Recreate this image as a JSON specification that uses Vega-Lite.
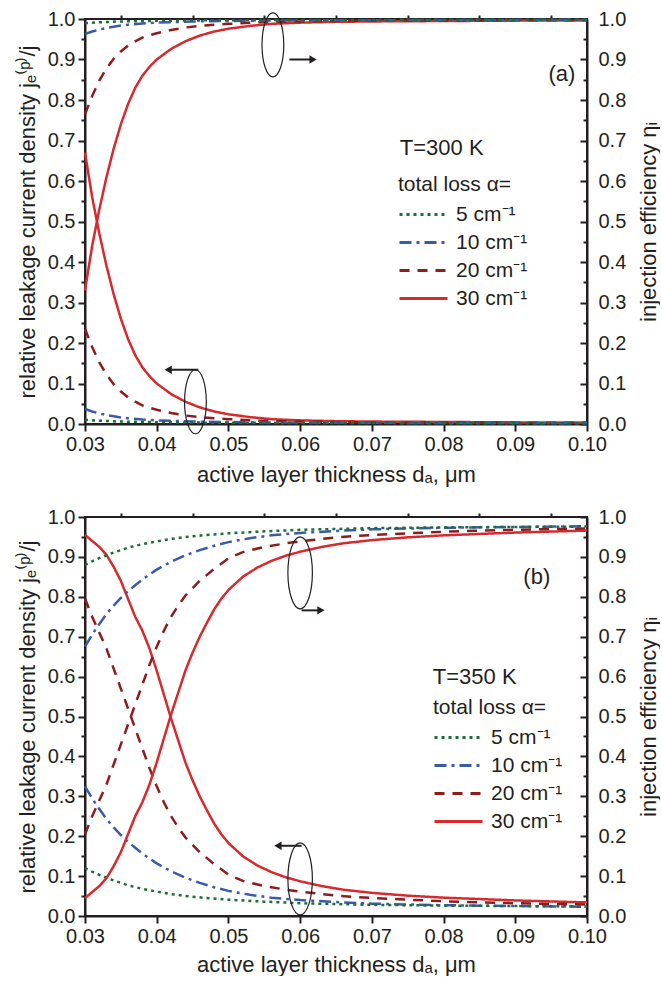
{
  "$schema": "https://vega.github.io/schema/vega-lite/v6.json",
  "padding": {"left": 15, "top": 8, "right": 0, "bottom": 0},
  "spacing": 20,
  "resolve": {"scale": {"color": "independent", "strokeDash": "independent"}, "legend": {"color": "independent", "strokeDash": "independent"}},
  "datasets": {
    "a": [
      {"d":0.030,"a":"30 cm⁻¹","L":0.67,"E":0.33},{"d":0.031,"a":"30 cm⁻¹","L":0.56,"E":0.44},{"d":0.032,"a":"30 cm⁻¹","L":0.47,"E":0.53},{"d":0.033,"a":"30 cm⁻¹","L":0.39,"E":0.61},{"d":0.034,"a":"30 cm⁻¹","L":0.32,"E":0.68},{"d":0.035,"a":"30 cm⁻¹","L":0.26,"E":0.74},{"d":0.036,"a":"30 cm⁻¹","L":0.21,"E":0.79},{"d":0.037,"a":"30 cm⁻¹","L":0.17,"E":0.83},{"d":0.038,"a":"30 cm⁻¹","L":0.14,"E":0.86},{"d":0.039,"a":"30 cm⁻¹","L":0.118,"E":0.882},{"d":0.040,"a":"30 cm⁻¹","L":0.10,"E":0.90},{"d":0.042,"a":"30 cm⁻¹","L":0.074,"E":0.926},{"d":0.044,"a":"30 cm⁻¹","L":0.055,"E":0.945},{"d":0.046,"a":"30 cm⁻¹","L":0.041,"E":0.959},{"d":0.048,"a":"30 cm⁻¹","L":0.031,"E":0.969},{"d":0.050,"a":"30 cm⁻¹","L":0.024,"E":0.976},{"d":0.053,"a":"30 cm⁻¹","L":0.017,"E":0.983},{"d":0.056,"a":"30 cm⁻¹","L":0.012,"E":0.988},{"d":0.060,"a":"30 cm⁻¹","L":0.009,"E":0.991},{"d":0.065,"a":"30 cm⁻¹","L":0.007,"E":0.993},{"d":0.070,"a":"30 cm⁻¹","L":0.006,"E":0.994},{"d":0.080,"a":"30 cm⁻¹","L":0.005,"E":0.995},{"d":0.090,"a":"30 cm⁻¹","L":0.004,"E":0.996},{"d":0.100,"a":"30 cm⁻¹","L":0.004,"E":0.996},
      {"d":0.030,"a":"20 cm⁻¹","L":0.235,"E":0.765},{"d":0.031,"a":"20 cm⁻¹","L":0.19,"E":0.81},{"d":0.032,"a":"20 cm⁻¹","L":0.152,"E":0.848},{"d":0.033,"a":"20 cm⁻¹","L":0.122,"E":0.878},{"d":0.034,"a":"20 cm⁻¹","L":0.098,"E":0.902},{"d":0.035,"a":"20 cm⁻¹","L":0.08,"E":0.92},{"d":0.036,"a":"20 cm⁻¹","L":0.066,"E":0.934},{"d":0.037,"a":"20 cm⁻¹","L":0.055,"E":0.945},{"d":0.038,"a":"20 cm⁻¹","L":0.046,"E":0.954},{"d":0.039,"a":"20 cm⁻¹","L":0.04,"E":0.96},{"d":0.040,"a":"20 cm⁻¹","L":0.035,"E":0.965},{"d":0.042,"a":"20 cm⁻¹","L":0.027,"E":0.973},{"d":0.044,"a":"20 cm⁻¹","L":0.021,"E":0.979},{"d":0.046,"a":"20 cm⁻¹","L":0.017,"E":0.983},{"d":0.048,"a":"20 cm⁻¹","L":0.014,"E":0.986},{"d":0.050,"a":"20 cm⁻¹","L":0.012,"E":0.988},{"d":0.053,"a":"20 cm⁻¹","L":0.009,"E":0.991},{"d":0.056,"a":"20 cm⁻¹","L":0.007,"E":0.993},{"d":0.060,"a":"20 cm⁻¹","L":0.006,"E":0.994},{"d":0.065,"a":"20 cm⁻¹","L":0.005,"E":0.995},{"d":0.070,"a":"20 cm⁻¹","L":0.004,"E":0.996},{"d":0.080,"a":"20 cm⁻¹","L":0.004,"E":0.996},{"d":0.090,"a":"20 cm⁻¹","L":0.003,"E":0.997},{"d":0.100,"a":"20 cm⁻¹","L":0.003,"E":0.997},
      {"d":0.030,"a":"10 cm⁻¹","L":0.037,"E":0.963},{"d":0.031,"a":"10 cm⁻¹","L":0.031,"E":0.969},{"d":0.032,"a":"10 cm⁻¹","L":0.026,"E":0.974},{"d":0.033,"a":"10 cm⁻¹","L":0.022,"E":0.978},{"d":0.034,"a":"10 cm⁻¹","L":0.019,"E":0.981},{"d":0.035,"a":"10 cm⁻¹","L":0.016,"E":0.984},{"d":0.036,"a":"10 cm⁻¹","L":0.014,"E":0.986},{"d":0.038,"a":"10 cm⁻¹","L":0.011,"E":0.989},{"d":0.040,"a":"10 cm⁻¹","L":0.009,"E":0.991},{"d":0.042,"a":"10 cm⁻¹","L":0.008,"E":0.992},{"d":0.045,"a":"10 cm⁻¹","L":0.006,"E":0.994},{"d":0.050,"a":"10 cm⁻¹","L":0.005,"E":0.995},{"d":0.055,"a":"10 cm⁻¹","L":0.004,"E":0.996},{"d":0.060,"a":"10 cm⁻¹","L":0.0035,"E":0.9965},{"d":0.070,"a":"10 cm⁻¹","L":0.003,"E":0.997},{"d":0.080,"a":"10 cm⁻¹","L":0.0025,"E":0.9975},{"d":0.100,"a":"10 cm⁻¹","L":0.002,"E":0.998},
      {"d":0.030,"a":"5 cm⁻¹","L":0.010,"E":0.990},{"d":0.032,"a":"5 cm⁻¹","L":0.008,"E":0.992},{"d":0.035,"a":"5 cm⁻¹","L":0.006,"E":0.994},{"d":0.040,"a":"5 cm⁻¹","L":0.0045,"E":0.9955},{"d":0.045,"a":"5 cm⁻¹","L":0.0035,"E":0.9965},{"d":0.050,"a":"5 cm⁻¹","L":0.003,"E":0.997},{"d":0.060,"a":"5 cm⁻¹","L":0.0025,"E":0.9975},{"d":0.080,"a":"5 cm⁻¹","L":0.002,"E":0.998},{"d":0.100,"a":"5 cm⁻¹","L":0.002,"E":0.998}
    ],
    "b": [
      {"d":0.030,"a":"30 cm⁻¹","L":0.955,"E":0.045},{"d":0.031,"a":"30 cm⁻¹","L":0.94,"E":0.06},{"d":0.032,"a":"30 cm⁻¹","L":0.925,"E":0.075},{"d":0.033,"a":"30 cm⁻¹","L":0.905,"E":0.095},{"d":0.034,"a":"30 cm⁻¹","L":0.875,"E":0.125},{"d":0.035,"a":"30 cm⁻¹","L":0.84,"E":0.16},{"d":0.036,"a":"30 cm⁻¹","L":0.795,"E":0.205},{"d":0.037,"a":"30 cm⁻¹","L":0.75,"E":0.25},{"d":0.038,"a":"30 cm⁻¹","L":0.715,"E":0.285},{"d":0.039,"a":"30 cm⁻¹","L":0.67,"E":0.33},{"d":0.040,"a":"30 cm⁻¹","L":0.615,"E":0.385},{"d":0.041,"a":"30 cm⁻¹","L":0.555,"E":0.445},{"d":0.042,"a":"30 cm⁻¹","L":0.495,"E":0.505},{"d":0.043,"a":"30 cm⁻¹","L":0.44,"E":0.56},{"d":0.044,"a":"30 cm⁻¹","L":0.385,"E":0.615},{"d":0.045,"a":"30 cm⁻¹","L":0.34,"E":0.66},{"d":0.046,"a":"30 cm⁻¹","L":0.30,"E":0.70},{"d":0.047,"a":"30 cm⁻¹","L":0.265,"E":0.735},{"d":0.048,"a":"30 cm⁻¹","L":0.232,"E":0.768},{"d":0.049,"a":"30 cm⁻¹","L":0.205,"E":0.795},{"d":0.050,"a":"30 cm⁻¹","L":0.183,"E":0.817},{"d":0.052,"a":"30 cm⁻¹","L":0.15,"E":0.85},{"d":0.054,"a":"30 cm⁻¹","L":0.127,"E":0.873},{"d":0.056,"a":"30 cm⁻¹","L":0.11,"E":0.89},{"d":0.058,"a":"30 cm⁻¹","L":0.097,"E":0.903},{"d":0.060,"a":"30 cm⁻¹","L":0.087,"E":0.913},{"d":0.063,"a":"30 cm⁻¹","L":0.075,"E":0.925},{"d":0.066,"a":"30 cm⁻¹","L":0.066,"E":0.934},{"d":0.070,"a":"30 cm⁻¹","L":0.058,"E":0.942},{"d":0.075,"a":"30 cm⁻¹","L":0.051,"E":0.949},{"d":0.080,"a":"30 cm⁻¹","L":0.046,"E":0.954},{"d":0.090,"a":"30 cm⁻¹","L":0.039,"E":0.961},{"d":0.100,"a":"30 cm⁻¹","L":0.034,"E":0.966},
      {"d":0.030,"a":"20 cm⁻¹","L":0.795,"E":0.205},{"d":0.031,"a":"20 cm⁻¹","L":0.75,"E":0.25},{"d":0.032,"a":"20 cm⁻¹","L":0.71,"E":0.29},{"d":0.033,"a":"20 cm⁻¹","L":0.67,"E":0.33},{"d":0.034,"a":"20 cm⁻¹","L":0.62,"E":0.38},{"d":0.035,"a":"20 cm⁻¹","L":0.57,"E":0.43},{"d":0.036,"a":"20 cm⁻¹","L":0.52,"E":0.48},{"d":0.037,"a":"20 cm⁻¹","L":0.47,"E":0.53},{"d":0.038,"a":"20 cm⁻¹","L":0.42,"E":0.58},{"d":0.039,"a":"20 cm⁻¹","L":0.37,"E":0.63},{"d":0.040,"a":"20 cm⁻¹","L":0.325,"E":0.675},{"d":0.041,"a":"20 cm⁻¹","L":0.285,"E":0.715},{"d":0.042,"a":"20 cm⁻¹","L":0.25,"E":0.75},{"d":0.043,"a":"20 cm⁻¹","L":0.222,"E":0.778},{"d":0.044,"a":"20 cm⁻¹","L":0.197,"E":0.803},{"d":0.046,"a":"20 cm⁻¹","L":0.16,"E":0.84},{"d":0.048,"a":"20 cm⁻¹","L":0.13,"E":0.87},{"d":0.050,"a":"20 cm⁻¹","L":0.104,"E":0.896},{"d":0.052,"a":"20 cm⁻¹","L":0.088,"E":0.912},{"d":0.055,"a":"20 cm⁻¹","L":0.075,"E":0.925},{"d":0.058,"a":"20 cm⁻¹","L":0.066,"E":0.934},{"d":0.060,"a":"20 cm⁻¹","L":0.061,"E":0.939},{"d":0.065,"a":"20 cm⁻¹","L":0.051,"E":0.949},{"d":0.070,"a":"20 cm⁻¹","L":0.045,"E":0.955},{"d":0.080,"a":"20 cm⁻¹","L":0.037,"E":0.963},{"d":0.090,"a":"20 cm⁻¹","L":0.032,"E":0.968},{"d":0.100,"a":"20 cm⁻¹","L":0.029,"E":0.971},
      {"d":0.030,"a":"10 cm⁻¹","L":0.325,"E":0.675},{"d":0.031,"a":"10 cm⁻¹","L":0.295,"E":0.705},{"d":0.032,"a":"10 cm⁻¹","L":0.268,"E":0.732},{"d":0.033,"a":"10 cm⁻¹","L":0.243,"E":0.757},{"d":0.034,"a":"10 cm⁻¹","L":0.222,"E":0.778},{"d":0.035,"a":"10 cm⁻¹","L":0.203,"E":0.797},{"d":0.036,"a":"10 cm⁻¹","L":0.186,"E":0.814},{"d":0.037,"a":"10 cm⁻¹","L":0.171,"E":0.829},{"d":0.038,"a":"10 cm⁻¹","L":0.157,"E":0.843},{"d":0.039,"a":"10 cm⁻¹","L":0.144,"E":0.856},{"d":0.040,"a":"10 cm⁻¹","L":0.132,"E":0.868},{"d":0.042,"a":"10 cm⁻¹","L":0.112,"E":0.888},{"d":0.044,"a":"10 cm⁻¹","L":0.096,"E":0.904},{"d":0.046,"a":"10 cm⁻¹","L":0.083,"E":0.917},{"d":0.048,"a":"10 cm⁻¹","L":0.072,"E":0.928},{"d":0.050,"a":"10 cm⁻¹","L":0.063,"E":0.937},{"d":0.053,"a":"10 cm⁻¹","L":0.053,"E":0.947},{"d":0.056,"a":"10 cm⁻¹","L":0.046,"E":0.954},{"d":0.060,"a":"10 cm⁻¹","L":0.04,"E":0.96},{"d":0.065,"a":"10 cm⁻¹","L":0.035,"E":0.965},{"d":0.070,"a":"10 cm⁻¹","L":0.031,"E":0.969},{"d":0.080,"a":"10 cm⁻¹","L":0.027,"E":0.973},{"d":0.090,"a":"10 cm⁻¹","L":0.025,"E":0.975},{"d":0.100,"a":"10 cm⁻¹","L":0.023,"E":0.977},
      {"d":0.030,"a":"5 cm⁻¹","L":0.12,"E":0.88},{"d":0.031,"a":"5 cm⁻¹","L":0.111,"E":0.889},{"d":0.032,"a":"5 cm⁻¹","L":0.103,"E":0.897},{"d":0.033,"a":"5 cm⁻¹","L":0.096,"E":0.904},{"d":0.034,"a":"5 cm⁻¹","L":0.089,"E":0.911},{"d":0.035,"a":"5 cm⁻¹","L":0.083,"E":0.917},{"d":0.036,"a":"5 cm⁻¹","L":0.077,"E":0.923},{"d":0.038,"a":"5 cm⁻¹","L":0.068,"E":0.932},{"d":0.040,"a":"5 cm⁻¹","L":0.061,"E":0.939},{"d":0.042,"a":"5 cm⁻¹","L":0.055,"E":0.945},{"d":0.044,"a":"5 cm⁻¹","L":0.05,"E":0.95},{"d":0.047,"a":"5 cm⁻¹","L":0.045,"E":0.955},{"d":0.050,"a":"5 cm⁻¹","L":0.041,"E":0.959},{"d":0.055,"a":"5 cm⁻¹","L":0.036,"E":0.964},{"d":0.060,"a":"5 cm⁻¹","L":0.032,"E":0.968},{"d":0.065,"a":"5 cm⁻¹","L":0.03,"E":0.97},{"d":0.070,"a":"5 cm⁻¹","L":0.028,"E":0.972},{"d":0.080,"a":"5 cm⁻¹","L":0.026,"E":0.974},{"d":0.090,"a":"5 cm⁻¹","L":0.025,"E":0.975},{"d":0.100,"a":"5 cm⁻¹","L":0.024,"E":0.976}
    ]
  },
  "vconcat": [
    {
      "width": 502,
      "height": 405,
      "resolve": {"axis": {"x": "independent", "y": "independent"}},
      "layer": [
        {
          "data": {"name": "a"},
          "mark": {"type": "line", "strokeWidth": 2.5},
          "encoding": {
            "x": {"field": "d", "type": "quantitative", "scale": {"domain": [0.03, 0.1], "nice": false, "zero": false, "padding": 0},
                  "axis": {"values": [0.03,0.04,0.05,0.06,0.07,0.08,0.09,0.1], "format": ".2f", "title": "active layer thickness dₐ, μm", "labelPadding": 3, "titlePadding": 10}},
            "y": {"field": "L", "type": "quantitative", "scale": {"domain": [0, 1], "nice": false, "padding": 0},
                  "axis": {"orient": "left", "values": [0,0.1,0.2,0.3,0.4,0.5,0.6,0.7,0.8,0.9,1], "format": ".1f", "title": "relative leakage current density jₑ⁽ᵖ⁾/j", "labelPadding": 3, "titlePadding": 8}},
            "color": {"field": "a", "type": "nominal", "scale": {"domain": ["5 cm⁻¹","10 cm⁻¹","20 cm⁻¹","30 cm⁻¹"], "range": ["#1b6e36","#3b5aa9","#8c1c1e","#d62a2f"]},
                      "legend": {"title": "total loss α=", "legendX": 313, "legendY": 155}},
            "strokeDash": {"field": "a", "type": "nominal", "scale": {"domain": ["5 cm⁻¹","10 cm⁻¹","20 cm⁻¹","30 cm⁻¹"], "range": [[3,4],[12,5,3,5],[10,8],[1,0]]},
                      "legend": {"title": "total loss α=", "legendX": 313, "legendY": 155}}
          }
        },
        {
          "data": {"name": "a"},
          "mark": {"type": "line", "strokeWidth": 2.5},
          "encoding": {
            "x": {"field": "d", "type": "quantitative", "scale": {"domain": [0.03, 0.1], "nice": false, "zero": false, "padding": 0}, "axis": null},
            "y": {"field": "E", "type": "quantitative", "scale": {"domain": [0, 1], "nice": false, "padding": 0},
                  "axis": {"orient": "right", "values": [0,0.1,0.2,0.3,0.4,0.5,0.6,0.7,0.8,0.9,1], "format": ".1f", "title": "injection efficiency ηᵢ", "titleAngle": -90, "titleBaseline": "middle", "titleX": 61, "tickSize": -7, "labelPadding": 18}},
            "color": {"field": "a", "type": "nominal", "legend": {"title": "total loss α=", "legendX": 313, "legendY": 155}},
            "strokeDash": {"field": "a", "type": "nominal", "legend": {"title": "total loss α=", "legendX": 313, "legendY": 155}}
          }
        },
        {
          "data": {"name": "a"},
          "mark": {"type": "point", "opacity": 0},
          "encoding": {
            "x": {"field": "d", "type": "quantitative", "scale": {"domain": [0.03, 0.1], "nice": false, "zero": false, "padding": 0}, "axis": {"values": [0.035,0.045,0.055,0.065,0.075,0.085,0.095], "labels": false, "domain": false, "tickSize": 4, "title": null}},
            "y": {"field": "L", "type": "quantitative", "scale": {"domain": [0, 1], "nice": false, "padding": 0}, "axis": {"orient": "left", "values": [0.05,0.15,0.25,0.35,0.45,0.55,0.65,0.75,0.85,0.95], "labels": false, "domain": false, "tickSize": 4, "title": null}}
          }
        },
        {
          "data": {"name": "a"},
          "mark": {"type": "point", "opacity": 0},
          "encoding": {
            "x": {"field": "d", "type": "quantitative", "scale": {"domain": [0.03, 0.1], "nice": false, "zero": false, "padding": 0}, "axis": null},
            "y": {"field": "E", "type": "quantitative", "scale": {"domain": [0, 1], "nice": false, "padding": 0}, "axis": {"orient": "right", "values": [0.05,0.15,0.25,0.35,0.45,0.55,0.65,0.75,0.85,0.95], "labels": false, "domain": false, "tickSize": -4, "title": null}}
          }
        },
        {
          "data": {"values": [{"d": 0.0562, "v": 0.936}, {"d": 0.0454, "v": 0.055}]},
          "mark": {"type": "point", "shape": "M0,-1A0.34,1,0,1,1,0,1A0.34,1,0,1,1,0,-1Z", "size": 4096, "filled": false, "stroke": "#231f20", "strokeWidth": 1.2, "opacity": 1},
          "encoding": {
            "x": {"field": "d", "type": "quantitative", "scale": {"domain": [0.03, 0.1], "nice": false, "zero": false, "padding": 0}, "axis": null},
            "y": {"field": "v", "type": "quantitative", "scale": {"domain": [0, 1], "nice": false, "padding": 0}, "axis": null}
          }
        },
        {
          "data": {"values": [{"d": 0.0585, "d2": 0.0617, "v": 0.9}, {"d": 0.0458, "d2": 0.0417, "v": 0.134}]},
          "mark": {"type": "rule", "stroke": "#231f20", "strokeWidth": 2},
          "encoding": {
            "x": {"field": "d", "type": "quantitative", "scale": {"domain": [0.03, 0.1], "nice": false, "zero": false, "padding": 0}, "axis": null},
            "x2": {"field": "d2"},
            "y": {"field": "v", "type": "quantitative", "scale": {"domain": [0, 1], "nice": false, "padding": 0}, "axis": null}
          }
        },
        {
          "data": {"values": [{"d": 0.0618, "v": 0.9}]},
          "mark": {"type": "point", "shape": "triangle-right", "size": 70, "filled": true, "color": "#231f20", "opacity": 1},
          "encoding": {
            "x": {"field": "d", "type": "quantitative", "scale": {"domain": [0.03, 0.1], "nice": false, "zero": false, "padding": 0}, "axis": null},
            "y": {"field": "v", "type": "quantitative", "scale": {"domain": [0, 1], "nice": false, "padding": 0}, "axis": null}
          }
        },
        {
          "data": {"values": [{"d": 0.0416, "v": 0.134}]},
          "mark": {"type": "point", "shape": "triangle-left", "size": 70, "filled": true, "color": "#231f20", "opacity": 1},
          "encoding": {
            "x": {"field": "d", "type": "quantitative", "scale": {"domain": [0.03, 0.1], "nice": false, "zero": false, "padding": 0}, "axis": null},
            "y": {"field": "v", "type": "quantitative", "scale": {"domain": [0, 1], "nice": false, "padding": 0}, "axis": null}
          }
        },
        {
          "data": {"values": [{"d": 0.0739, "v": 0.681, "t": "T=300 K"}]},
          "mark": {"type": "text", "font": "Liberation Sans", "fontSize": 22, "color": "#231f20", "align": "left", "baseline": "middle"},
          "encoding": {
            "x": {"field": "d", "type": "quantitative", "scale": {"domain": [0.03, 0.1], "nice": false, "zero": false, "padding": 0}, "axis": null},
            "y": {"field": "v", "type": "quantitative", "scale": {"domain": [0, 1], "nice": false, "padding": 0}, "axis": null},
            "text": {"field": "t"}
          }
        },
        {
          "data": {"values": [{"d": 0.0965, "v": 0.864, "t": "(a)"}]},
          "mark": {"type": "text", "font": "Liberation Sans", "fontSize": 22, "color": "#231f20", "align": "center", "baseline": "middle"},
          "encoding": {
            "x": {"field": "d", "type": "quantitative", "scale": {"domain": [0.03, 0.1], "nice": false, "zero": false, "padding": 0}, "axis": null},
            "y": {"field": "v", "type": "quantitative", "scale": {"domain": [0, 1], "nice": false, "padding": 0}, "axis": null},
            "text": {"field": "t"}
          }
        }
      ]
    },
    {
      "width": 502,
      "height": 399,
      "resolve": {"axis": {"x": "independent", "y": "independent"}},
      "layer": [
        {
          "data": {"name": "b"},
          "mark": {"type": "line", "strokeWidth": 2.5},
          "encoding": {
            "x": {"field": "d", "type": "quantitative", "scale": {"domain": [0.03, 0.1], "nice": false, "zero": false, "padding": 0},
                  "axis": {"values": [0.03,0.04,0.05,0.06,0.07,0.08,0.09,0.1], "format": ".2f", "title": "active layer thickness dₐ, μm", "labelPadding": 3, "titlePadding": 8}},
            "y": {"field": "L", "type": "quantitative", "scale": {"domain": [0, 1], "nice": false, "padding": 0},
                  "axis": {"orient": "left", "values": [0,0.1,0.2,0.3,0.4,0.5,0.6,0.7,0.8,0.9,1], "format": ".1f", "title": "relative leakage current density jₑ⁽ᵖ⁾/j", "labelPadding": 3, "titlePadding": 8}},
            "color": {"field": "a", "type": "nominal", "scale": {"domain": ["5 cm⁻¹","10 cm⁻¹","20 cm⁻¹","30 cm⁻¹"], "range": ["#1b6e36","#3b5aa9","#8c1c1e","#d62a2f"]},
                      "legend": {"title": "total loss α=", "legendX": 348, "legendY": 180}},
            "strokeDash": {"field": "a", "type": "nominal", "scale": {"domain": ["5 cm⁻¹","10 cm⁻¹","20 cm⁻¹","30 cm⁻¹"], "range": [[3,4],[12,5,3,5],[10,8],[1,0]]},
                      "legend": {"title": "total loss α=", "legendX": 348, "legendY": 180}}
          }
        },
        {
          "data": {"name": "b"},
          "mark": {"type": "line", "strokeWidth": 2.5},
          "encoding": {
            "x": {"field": "d", "type": "quantitative", "scale": {"domain": [0.03, 0.1], "nice": false, "zero": false, "padding": 0}, "axis": null},
            "y": {"field": "E", "type": "quantitative", "scale": {"domain": [0, 1], "nice": false, "padding": 0},
                  "axis": {"orient": "right", "values": [0,0.1,0.2,0.3,0.4,0.5,0.6,0.7,0.8,0.9,1], "format": ".1f", "title": "injection efficiency ηᵢ", "titleAngle": -90, "titleBaseline": "middle", "titleX": 61, "tickSize": -7, "labelPadding": 18}},
            "color": {"field": "a", "type": "nominal", "legend": {"title": "total loss α=", "legendX": 348, "legendY": 180}},
            "strokeDash": {"field": "a", "type": "nominal", "legend": {"title": "total loss α=", "legendX": 348, "legendY": 180}}
          }
        },
        {
          "data": {"name": "b"},
          "mark": {"type": "point", "opacity": 0},
          "encoding": {
            "x": {"field": "d", "type": "quantitative", "scale": {"domain": [0.03, 0.1], "nice": false, "zero": false, "padding": 0}, "axis": {"values": [0.035,0.045,0.055,0.065,0.075,0.085,0.095], "labels": false, "domain": false, "tickSize": 4, "title": null}},
            "y": {"field": "L", "type": "quantitative", "scale": {"domain": [0, 1], "nice": false, "padding": 0}, "axis": {"orient": "left", "values": [0.05,0.15,0.25,0.35,0.45,0.55,0.65,0.75,0.85,0.95], "labels": false, "domain": false, "tickSize": 4, "title": null}}
          }
        },
        {
          "data": {"name": "b"},
          "mark": {"type": "point", "opacity": 0},
          "encoding": {
            "x": {"field": "d", "type": "quantitative", "scale": {"domain": [0.03, 0.1], "nice": false, "zero": false, "padding": 0}, "axis": null},
            "y": {"field": "E", "type": "quantitative", "scale": {"domain": [0, 1], "nice": false, "padding": 0}, "axis": {"orient": "right", "values": [0.05,0.15,0.25,0.35,0.45,0.55,0.65,0.75,0.85,0.95], "labels": false, "domain": false, "tickSize": -4, "title": null}}
          }
        },
        {
          "data": {"values": [{"d": 0.060, "v": 0.86}, {"d": 0.060, "v": 0.093}]},
          "mark": {"type": "point", "shape": "M0,-1A0.34,1,0,1,1,0,1A0.34,1,0,1,1,0,-1Z", "size": 5184, "filled": false, "stroke": "#231f20", "strokeWidth": 1.2, "opacity": 1},
          "encoding": {
            "x": {"field": "d", "type": "quantitative", "scale": {"domain": [0.03, 0.1], "nice": false, "zero": false, "padding": 0}, "axis": null},
            "y": {"field": "v", "type": "quantitative", "scale": {"domain": [0, 1], "nice": false, "padding": 0}, "axis": null}
          }
        },
        {
          "data": {"values": [{"d": 0.0602, "d2": 0.0628, "v": 0.766}, {"d": 0.0602, "d2": 0.0570, "v": 0.176}]},
          "mark": {"type": "rule", "stroke": "#231f20", "strokeWidth": 2},
          "encoding": {
            "x": {"field": "d", "type": "quantitative", "scale": {"domain": [0.03, 0.1], "nice": false, "zero": false, "padding": 0}, "axis": null},
            "x2": {"field": "d2"},
            "y": {"field": "v", "type": "quantitative", "scale": {"domain": [0, 1], "nice": false, "padding": 0}, "axis": null}
          }
        },
        {
          "data": {"values": [{"d": 0.0629, "v": 0.766}]},
          "mark": {"type": "point", "shape": "triangle-right", "size": 70, "filled": true, "color": "#231f20", "opacity": 1},
          "encoding": {
            "x": {"field": "d", "type": "quantitative", "scale": {"domain": [0.03, 0.1], "nice": false, "zero": false, "padding": 0}, "axis": null},
            "y": {"field": "v", "type": "quantitative", "scale": {"domain": [0, 1], "nice": false, "padding": 0}, "axis": null}
          }
        },
        {
          "data": {"values": [{"d": 0.0569, "v": 0.176}]},
          "mark": {"type": "point", "shape": "triangle-left", "size": 70, "filled": true, "color": "#231f20", "opacity": 1},
          "encoding": {
            "x": {"field": "d", "type": "quantitative", "scale": {"domain": [0.03, 0.1], "nice": false, "zero": false, "padding": 0}, "axis": null},
            "y": {"field": "v", "type": "quantitative", "scale": {"domain": [0, 1], "nice": false, "padding": 0}, "axis": null}
          }
        },
        {
          "data": {"values": [{"d": 0.0785, "v": 0.599, "t": "T=350 K"}]},
          "mark": {"type": "text", "font": "Liberation Sans", "fontSize": 22, "color": "#231f20", "align": "left", "baseline": "middle"},
          "encoding": {
            "x": {"field": "d", "type": "quantitative", "scale": {"domain": [0.03, 0.1], "nice": false, "zero": false, "padding": 0}, "axis": null},
            "y": {"field": "v", "type": "quantitative", "scale": {"domain": [0, 1], "nice": false, "padding": 0}, "axis": null},
            "text": {"field": "t"}
          }
        },
        {
          "data": {"values": [{"d": 0.093, "v": 0.85, "t": "(b)"}]},
          "mark": {"type": "text", "font": "Liberation Sans", "fontSize": 22, "color": "#231f20", "align": "center", "baseline": "middle"},
          "encoding": {
            "x": {"field": "d", "type": "quantitative", "scale": {"domain": [0.03, 0.1], "nice": false, "zero": false, "padding": 0}, "axis": null},
            "y": {"field": "v", "type": "quantitative", "scale": {"domain": [0, 1], "nice": false, "padding": 0}, "axis": null},
            "text": {"field": "t"}
          }
        }
      ]
    }
  ],
  "config": {
    "font": "Liberation Sans",
    "view": {"stroke": "#231f20", "strokeWidth": 2},
    "axis": {"grid": false, "labelFlush": false, "labelOverlap": false, "labelFont": "Liberation Sans", "labelFontSize": 20, "labelColor": "#231f20", "titleFont": "Liberation Sans", "titleFontSize": 22, "titleFontWeight": "normal", "titleColor": "#231f20", "domainColor": "#231f20", "domainWidth": 2, "tickColor": "#231f20", "tickWidth": 2, "tickSize": 7},
    "legend": {"orient": "none", "padding": 0, "titleFont": "Liberation Sans", "titleFontSize": 21, "titleFontWeight": "normal", "titleColor": "#231f20", "labelFont": "Liberation Sans", "labelFontSize": 21, "labelColor": "#231f20", "symbolType": "M-2.4,0L2.4,0", "symbolSize": 400, "symbolStrokeWidth": 3, "rowPadding": 6, "symbolOffset": 14, "labelOffset": 21, "titlePadding": 8}
  }
}
